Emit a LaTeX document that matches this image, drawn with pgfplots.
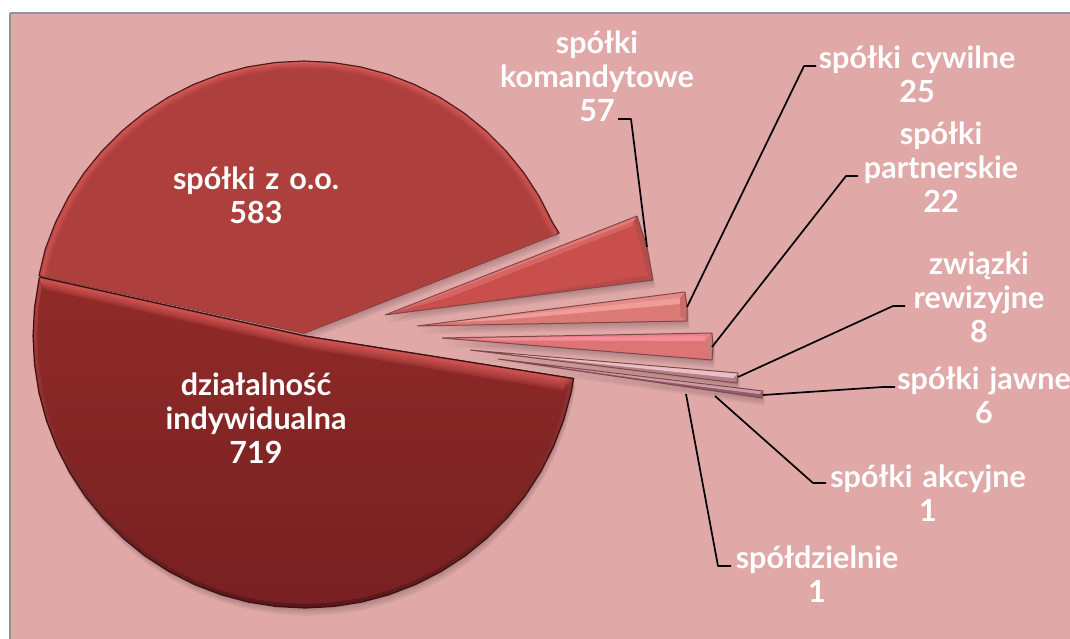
\documentclass[border=0pt]{standalone}
\usepackage{fontspec}
\setmainfont[WordSpace=1.35]{Lato}
\usepackage{pgfplots}
\usepackage{pgfplotstable}
\pgfplotsset{compat=1.18}

\definecolor{bg}{HTML}{E0A9A8}
\definecolor{upper}{HTML}{AD3F3D}
\definecolor{upperrim}{HTML}{D95A58}
\definecolor{darktop}{HTML}{902B28}
\definecolor{darkbot}{HTML}{782022}
\definecolor{darkrim}{HTML}{E0605E}
\definecolor{kfill}{HTML}{C94F4D}
\definecolor{kband}{HTML}{E27A77}
\definecolor{krim}{HTML}{B84A48}
\definecolor{cfill}{HTML}{DC7A78}
\definecolor{cband}{HTML}{F09C98}
\definecolor{crim}{HTML}{CC6C6A}
\definecolor{pfill}{HTML}{DE7475}
\definecolor{pband}{HTML}{F58E9A}
\definecolor{prim}{HTML}{D07A7A}
\definecolor{rfill}{HTML}{B57E86}
\definecolor{rband}{HTML}{E8C0C6}
\definecolor{jfill}{HTML}{98586A}
\definecolor{jband}{HTML}{CC9CA8}
\definecolor{edge}{HTML}{7D4A4C}

% slices in picture pixels, y running down
\pgfplotstableread{
x y
304 333
39 275.5
45.3 248.9
55.5 222.4
68.4 197
83.9 173.1
101.9 151
122 130.9
144.1 112.9
168 97.4
193.4 84.5
219.9 74.3
247.4 66.9
275.6 62.5
304 61
332.4 62.5
360.6 66.9
388.1 74.3
414.6 84.5
440 97.4
463.9 112.9
486 130.9
506.1 151
524.1 173.1
539.6 197
552.5 222.4
559 233
304 333
}\spzoo
\pgfplotstableread{
x y
305 336
573.7 378.6
571.1 392.6
563.7 420.1
553.5 446.6
540.6 472
525.1 495.9
507.1 518
487 538.1
464.9 556.1
441 571.6
415.6 584.5
389.1 594.7
361.6 602.1
333.4 606.5
305 608
276.6 606.5
248.4 602.1
220.9 594.7
194.4 584.5
169 571.6
145.1 556.1
123 538.1
102.9 518
84.9 495.9
69.4 472
56.5 446.6
46.3 420.1
38.9 392.6
34.5 364.4
33 336
34.5 307.6
39.4 277.1
305 336
}\indyw
\pgfplotstableread{
x y
385 315
637 216
647 247
653 280
385 315
}\komand
\pgfplotstableread{
x y
417 326
685 292
687 307
687 321
417 326
}\cywil
\pgfplotstableread{
x y
442 338
712 333
713 347
712 360
442 338
}\partn
\pgfplotstableread{
x y
470 350
738 373
737 383
470 350
}\rewiz
\pgfplotstableread{
x y
498 359
763 391
762 398
498 359
}\jawne

\newcommand{\shadow}[3]{\addplot[draw=none,fill=black,fill opacity=.05]
  table[x expr=\thisrow{x}+#2,y expr=\thisrow{y}+#3]{#1};}
\newcommand{\softshadow}[1]{\shadow{#1}{1}{2}\shadow{#1}{1}{4}\shadow{#1}{2}{6}\shadow{#1}{2}{8}}
\newcommand{\leader}[1]{\addplot[black,line width=1.7pt,line join=round] coordinates {#1};}
\newcommand{\band}[3][1]{\addplot[draw=none,fill=#2,fill opacity=#1] coordinates {#3};}
\newcommand{\outline}[1]{\addplot[draw=edge,line width=1pt,line join=round] table {#1};}
\newcommand{\lab}[3]{\node[white,align=center,inner sep=0pt,
  font=\fontsize{30.5}{34}\selectfont\bfseries] at (axis cs:#1,#2) {#3};}
\newcommand{\insetA}[2]{\addplot[fill=#2,draw=none]
    table[x expr={304+(\thisrow{x}-304)*#1},y expr={333+(\thisrow{y}-333)*#1}] {\spzoo};}

\begin{document}
\begin{tikzpicture}
\begin{axis}[
    scale only axis, width=1070pt, height=638pt,
    xmin=0, xmax=1070, ymin=0, ymax=638,
    y dir=reverse, axis lines=none, ticks=none,
    no markers
]
% page and panel
\addplot[fill=white,draw=none] coordinates {(0,0)(1070,0)(1070,638)(0,638)(0,0)};
\addplot[fill=bg,draw=gray!85,line width=1.5pt] coordinates
    {(10,13)(1080,13)(1080,648)(10,648)(10,13)};

% shadows
\softshadow{\spzoo}
\softshadow{\indyw}
\softshadow{\komand}
\softshadow{\cywil}
\softshadow{\partn}
\softshadow{\rewiz}
\softshadow{\jawne}

% spolki z o.o.
\addplot[shade,top color=upperrim,bottom color=upper,
    draw=upper!45!black,line width=1.2pt,line join=round] table {\spzoo};
\insetA{.992}{upper!35!upperrim}
\insetA{.985}{upper!60!upperrim}
\insetA{.978}{upper!82!upperrim}
\insetA{.971}{upper}

% dzialalnosc indywidualna
\addplot[shade,top color=upper,bottom color=darkbot!75!black,
    draw=darkbot!50!black,line width=1.2pt,line join=round] table {\indyw};
\addplot[shade,top color=darktop,bottom color=darkbot,draw=none]
    table[x expr={305+(\thisrow{x}-305)*.985},y expr={336+(\thisrow{y}-336)*.985}] {\indyw};
\band[.2]{darkrim}{(39.4,277.1)(305,336)(564,377)(564,390.6)(305,348)(44,289)}
\band[.2]{darkrim}{(39.4,277.1)(305,336)(566,377.4)(566,388.6)(305,346)(43.4,287)}
\band[.2]{darkrim}{(39.4,277.1)(305,336)(568,377.6)(568,386.6)(305,344)(42.6,285)}
\band[.2]{darkrim}{(39.4,277.1)(305,336)(569.2,377.8)(569.2,384.6)(305,342)(41.8,283)}
\band[.2]{darkrim}{(39.4,277.1)(305,336)(570.4,378)(570.4,383)(305,340.5)(41,281.5)}
\band[.25]{darkrim}{(39.4,277.1)(305,336)(571.6,378.2)(571.6,381.6)(305,339)(40.6,280)}
\addplot[draw=darkbot!50!black,line width=1.2pt] coordinates {(39.4,277.1)(305,336)(573.7,378.6)};

% spolki komandytowe
\addplot[fill=kfill,draw=none] table {\komand};
\band[.5]{kband}{(385,315)(637,216)(632,226)(450,297)}
\band{kband}{(385,315)(637,216)(634,221)(430,299)}
\band{krim}{(637,216)(647,247)(653,280)(648,275)(634,221)}
\band{krim}{(385,315)(653,280)(648,275)(480,302)}
\outline{\komand}

% spolki cywilne
\addplot[fill=cfill,draw=none] table {\cywil};
\band[.5]{cband}{(417,326)(685,292)(680,300)(480,319)}
\band{cband}{(440,323)(680,298)(680,304)(500,320)}
\band{crim}{(685,292)(687,307)(687,321)(680,316)(680,298)}
\outline{\cywil}

% spolki partnerskie
\addplot[fill=pfill,draw=none] table {\partn};
\band[.5]{pband}{(442,338)(712,333)(705,341)(500,341)}
\band{pband}{(480,338)(705,336)(705,341)(500,340)}
\band{prim}{(712,333)(713,347)(712,360)(705,353)(705,341)}
\outline{\partn}

% zwiazki rewizyjne
\addplot[fill=rfill,draw=none] table {\rewiz};
\band{rband}{(470,350)(738,373)(733,378)(600,364)}
\outline{\rewiz}

% spolki jawne
\addplot[fill=jfill,draw=none] table {\jawne};
\band{jband}{(498,359)(763,391)(759,394)(650,380)}
\outline{\jawne}

% leader lines
\leader{(647,247)(631,119)(618,119)}
\leader{(687,307)(804,66)(816,66)}
\leader{(712,347)(846,176)(858,176)}
\leader{(738,377)(893,306)(905,306)}
\leader{(763,395)(883,387)(895,387)}
\leader{(715,396)(813,483)(826,483)}
\leader{(686,394)(718,566)(731,566)}

% labels
\lab{256}{195}{spółki z o.o.\\583}
\lab{256}{418}{działalność\\indywidualna\\719}
\lab{597}{76}{spółki\\komandytowe\\57}
\lab{917}{74}{spółki cywilne\\25}
\lab{941}{167}{spółki\\partnerskie\\22}
\lab{979}{297}{związki\\rewizyjne\\8}
\lab{984}{395}{spółki jawne\\6}
\lab{928}{493}{spółki akcyjne\\1}
\lab{817}{574}{spółdzielnie\\1}
\end{axis}
\end{tikzpicture}
\end{document}
